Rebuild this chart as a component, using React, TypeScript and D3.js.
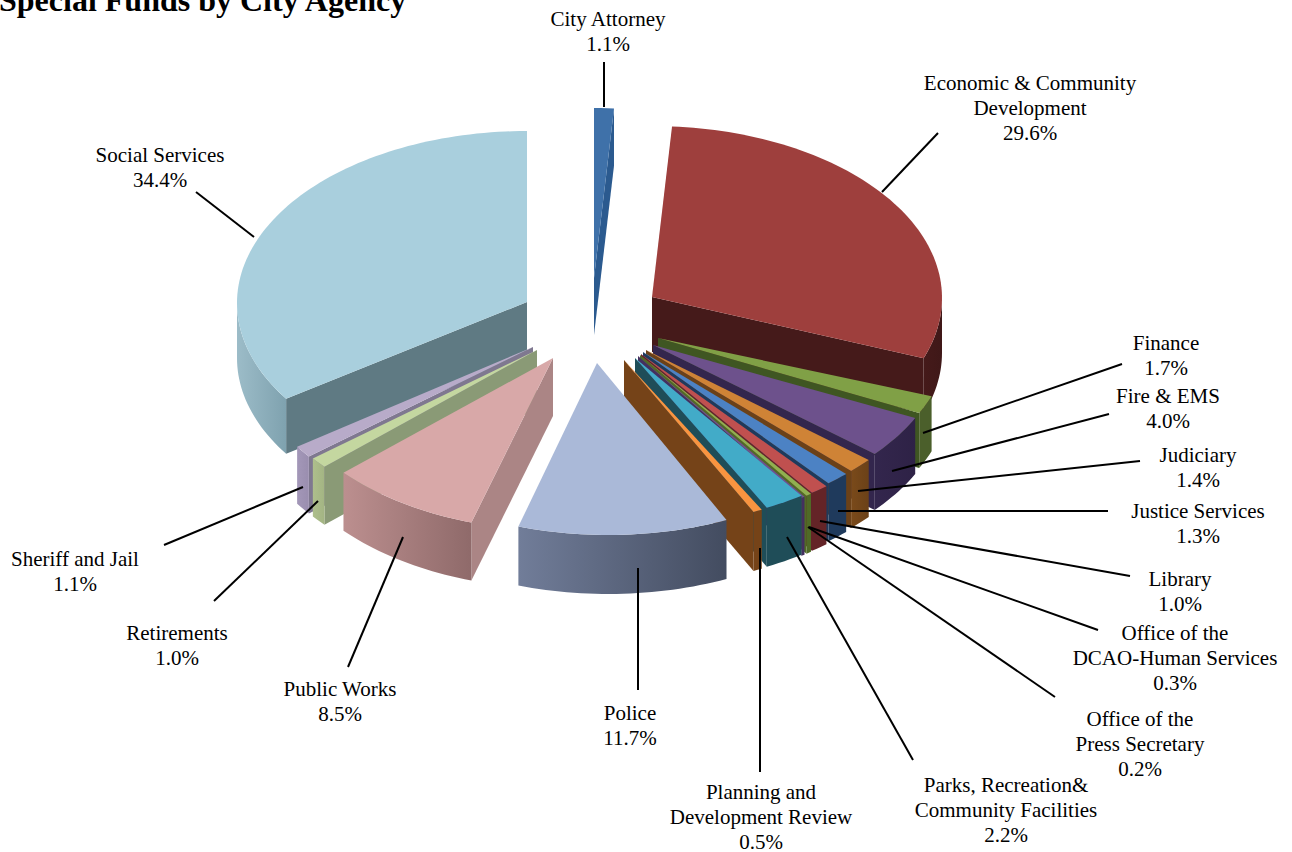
import React from "react";
import * as d3 from "d3";

const agencies = ["City Attorney","Economic & Community\nDevelopment","Finance","Fire & EMS","Judiciary","Justice Services","Library","Office of the\nDCAO-Human Services","Office of the\nPress Secretary","Parks, Recreation&\nCommunity Facilities","Planning and\nDevelopment Review","Police","Public Works","Retirements","Sheriff and Jail","Social Services"];
const shares = [1.1,29.6,1.7,4.0,1.4,1.3,1.0,0.3,0.2,2.2,0.5,11.7,8.5,1.0,1.1,34.4];

const topColors = ["#3f71a9","#9e3f3d","#80a046","#6d518c","#cf8336","#4c82c4","#c0504f","#90b050","#6f4f90","#42abc8","#f99440","#aab9d8","#d8a8a8","#c4d7a0","#b8abc9","#a9cfdd"];
const sideColors = ["#2b5a8f","#451a1a","#3f5622","#33264d","#6b4118","#1f3a5c","#642427","#506b26","#44305f","#1f4d58","#754318","#4a5366","#ab8585","#8a9a76","#7f7890","#5f7a83"];
const rimFrom = ["#2b5a8f","#451a1a","#4b5f2b","#33264d","#7a4a1a","#1f3a5c","#642427","#506b26","#44305f","#1f4d58","#754318","#717d99","#bc8f8f","#aebf8c","#a397b8","#9cbcc8"];
const rimTo = ["#2b5a8f","#3f1818","#4b5f2b","#2e2246","#6b4118","#1f3a5c","#642427","#506b26","#44305f","#1f4d58","#754318","#434c60","#8f6a6a","#a3b483","#9a8eaf","#7fa2af"];

// Each wedge's ellipse centre, the tip of its drawn point, and wall height.
const centreX = [594,652,660,656,650,645,643,642,640,640,635,608,561,542,538,527];
const centreY = [280,298,336,341,347,350,353,354,355,353,355,363,359,353,351,303];
const tipX = [594,652,658,653,646,643,641,640,638,635,624,597,553,537,533,527];
const tipY = [278,297,338,345,350,352,354,355,356,358,360,363,358,350,347,302];
const wallDepth = [57,55,55,56,57,58,58,58,58,59,59,59,58,58,57,55];
const drawOrder = [1,0,15,2,3,4,5,6,7,8,9,10,14,13,12,11];

const RX = 290, RY = 172;

const leaderLines = [
  [604,62,604,107],[938,133,882,192],[1122,364,923,433],[1109,414,892,471],
  [1140,461,858,491],[1108,511,838,511],[1130,576,820,521],[1098,630,809,527],
  [1055,697,808,527],[913,760,787,537],[760,772,760,548],[638,690,638,568],
  [348,667,403,537],[214,601,318,501],[164,545,303,487],[196,192,254,237],
];
const labelX = [608,1030,1166,1168,1198,1198,1180,1175,1140,1006,761,630,340,177,75,160];
const labelY = [26,90,350,403,462,518,586,640,726,792,799,720,696,640,566,162];

const pct = d3.format(".1f");
const pieAngles = d3.pie<number>().sort(null).value((d) => d)(shares);
const outline = d3.line<[number, number]>().x((d) => d[0]).y((d) => d[1]);

export default function App() {
  const rim = (i: number, a: number, dy = 0): [number, number] => [
    centreX[i] + RX * Math.sin(a),
    centreY[i] - RY * Math.cos(a) + dy,
  ];
  const arcPts = (i: number, a0: number, a1: number, dy = 0) => {
    const n = Math.max(2, Math.ceil((a1 - a0) * 40));
    return d3.range(n + 1).map((k) => rim(i, a0 + ((a1 - a0) * k) / n, dy));
  };
  const quarter = Math.PI / 2;
  return (
    <svg width={1292} height={852} style={{ position: "absolute", left: 0, top: 0, background: "#fff" }}>
      <defs>
        {shares.map((_, i) => (
          <linearGradient key={i} id={`rim${i}`} x1="0" x2="1" y1="0" y2="0">
            <stop offset="0" stopColor={rimFrom[i]} />
            <stop offset="1" stopColor={rimTo[i]} />
          </linearGradient>
        ))}
      </defs>
      {drawOrder.map((i) => {
        const { startAngle: a0, endAngle: a1 } = pieAngles[i];
        const d = wallDepth[i];
        const tip: [number, number] = [tipX[i], tipY[i]];
        const tipLow: [number, number] = [tipX[i], tipY[i] + d];
        const parts: React.ReactNode[] = [];
        if (a1 < Math.PI) {
          parts.push(<path key="e" fill={sideColors[i]} d={outline([tip, rim(i, a1), rim(i, a1, d), tipLow])! + "Z"} />);
        }
        if (a0 > Math.PI) {
          parts.push(<path key="s" fill={sideColors[i]} d={outline([tip, rim(i, a0), rim(i, a0, d), tipLow])! + "Z"} />);
        }
        const r0 = Math.max(a0, quarter), r1 = Math.min(a1, 3 * quarter);
        if (r1 > r0) {
          const up = arcPts(i, r0, r1);
          const low = arcPts(i, r0, r1, d).reverse();
          parts.push(<path key="r" fill={`url(#rim${i})`} d={outline([...up, ...low])! + "Z"} />);
        }
        parts.push(<path key="t" fill={topColors[i]} d={outline([tip, ...arcPts(i, a0, a1)])! + "Z"} />);
        return <g key={i}>{parts}</g>;
      })}
      {leaderLines.map((l, i) => (
        <line key={i} x1={l[0]} y1={l[1]} x2={l[2]} y2={l[3]} stroke="#000" strokeWidth={2} />
      ))}
      <g fontFamily="'Liberation Serif'" fontSize={21} fill="#000" textAnchor="middle">
        {agencies.map((name, i) => {
          const rows = [...name.split("\n"), `${pct(shares[i])}%`];
          return (
            <text key={i} x={labelX[i]} y={labelY[i]}>
              {rows.map((r, k) => (
                <tspan key={k} x={labelX[i]} dy={k === 0 ? 0 : 25}>{r}</tspan>
              ))}
            </text>
          );
        })}
      </g>
      <text x={-1} y={11} fontFamily="'Liberation Serif'" fontWeight="bold" fontSize={32} fill="#000">
        Special Funds by City Agency
      </text>
    </svg>
  );
}
